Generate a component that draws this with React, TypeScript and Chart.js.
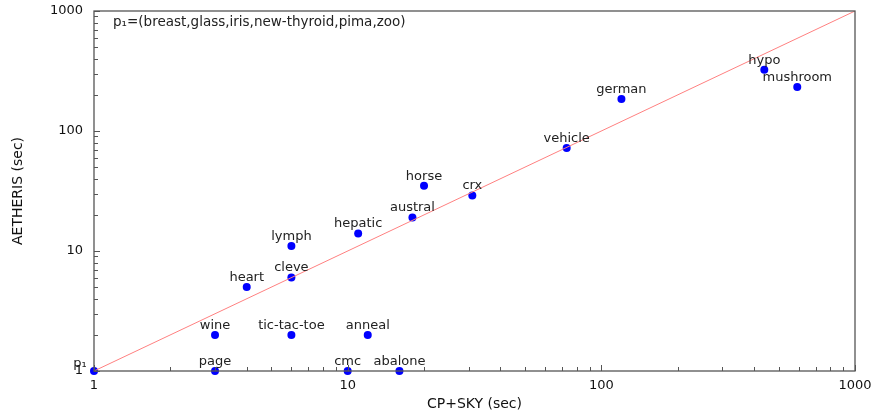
import React, { useEffect, useRef } from "react";
import { Chart, registerables } from "chart.js";

Chart.register(...registerables);

const names = ["p₁", "page", "wine", "tic-tac-toe", "anneal", "cmc", "abalone", "heart", "cleve", "lymph", "hepatic", "austral", "horse", "crx", "vehicle", "german", "hypo", "mushroom"];
const cpSky = [1, 3, 3, 6, 12, 10, 16, 4, 6, 6, 11, 18, 20, 31, 73, 120, 439, 592];
const aetheris = [1, 1, 2, 2, 2, 1, 1, 5, 6, 11, 14, 19, 35, 29, 72, 185, 324, 233];
const majorTicks = [1, 10, 100, 1000];
const diagonal = [1, 1000];
const noteText = "p₁=(breast,glass,iris,new-thyroid,pima,zoo)";
const xTitle = "CP+SKY (sec)";
const yTitle = "AETHERIS (sec)";

const FONT = "'DejaVu Sans', Verdana, sans-serif";
const AXIS_COLOR = "#555555";

const framePlugin = {
  id: "frameTicks",
  afterDatasetsDraw(chart: any) {
    const { ctx, chartArea, scales } = chart;
    const { left, right, top, bottom } = chartArea;
    ctx.save();
    ctx.strokeStyle = AXIS_COLOR;
    ctx.lineWidth = 1.3;
    ctx.strokeRect(left, top, right - left, bottom - top);
    ctx.lineWidth = 1;
    ctx.beginPath();
    for (let d = 1; d < 1000; d *= 10) {
      for (let k = 1; k <= 10; k++) {
        const v = d * k;
        if (v > 1000) continue;
        const len = k === 1 || k === 10 ? 6 : 4;
        const xp = Math.round(scales.x.getPixelForValue(v)) + 0.5;
        ctx.moveTo(xp, bottom);
        ctx.lineTo(xp, bottom - len);
        const yp = Math.round(scales.y.getPixelForValue(v)) + 0.5;
        ctx.moveTo(left, yp);
        ctx.lineTo(left + len, yp);
      }
    }
    ctx.stroke();

    // point labels
    const meta = chart.getDatasetMeta(1);
    ctx.fillStyle = "#222222";
    ctx.font = `13px ${FONT}`;
    ctx.textBaseline = "bottom";
    meta.data.forEach((pt: any, i: number) => {
      ctx.textAlign = "center";
      if (i === 0) {
        ctx.fillText(names[i], pt.x - 14, pt.y - 1);
      } else {
        ctx.fillText(names[i], pt.x, pt.y - 3);
      }
    });

    // note
    ctx.font = `13.5px ${FONT}`;
    ctx.textAlign = "left";
    ctx.textBaseline = "middle";
    ctx.fillStyle = "#222222";
    ctx.fillText(noteText, left + 19, top + 11);
    ctx.restore();
  },
};

export default function App() {
  const ref = useRef<HTMLCanvasElement | null>(null);
  useEffect(() => {
    document.body.style.margin = "0";
    const canvas = ref.current!;
    const chart = new Chart(canvas, {
      type: "scatter",
      data: {
        datasets: [
          {
            data: diagonal.map((v) => ({ x: v, y: v })),
            showLine: true,
            borderColor: "#ff8080",
            borderWidth: 1,
            pointRadius: 0,
            fill: false,
          },
          {
            data: cpSky.map((x, i) => ({ x, y: aetheris[i] })),
            backgroundColor: "#0000ff",
            borderColor: "#0000ff",
            pointRadius: 4,
            borderWidth: 0,
            clip: false,
          } as any,
        ],
      },
      options: {
        responsive: false,
        animation: false,
        events: [],
        layout: { padding: { top: 11, right: 25, left: 0, bottom: 0 } },
        plugins: { legend: { display: false }, tooltip: { enabled: false } },
        scales: {
          x: {
            type: "logarithmic",
            min: 1,
            max: 1000,
            grid: { display: false, drawTicks: false },
            border: { display: false },
            afterBuildTicks: (s: any) => {
              s.ticks = majorTicks.map((v) => ({ value: v }));
            },
            afterFit: (s: any) => {
              s.height = 46;
              s.paddingLeft = 0;
              s.paddingRight = 0;
            },
            ticks: {
              autoSkip: false,
              maxRotation: 0,
              padding: 7,
              color: "#111111",
              font: { family: FONT, size: 13 },
              callback: (v: any) => String(v),
            },
            title: {
              display: true,
              text: xTitle,
              color: "#111111",
              font: { family: FONT, size: 14 },
              padding: { top: 0, bottom: 4 },
            },
          },
          y: {
            type: "logarithmic",
            min: 1,
            max: 1000,
            grid: { display: false, drawTicks: false },
            border: { display: false },
            afterBuildTicks: (s: any) => {
              s.ticks = majorTicks.map((v) => ({ value: v }));
            },
            afterFit: (s: any) => {
              s.width = 94;
              s.paddingTop = 0;
              s.paddingBottom = 0;
            },
            ticks: {
              autoSkip: false,
              padding: 11,
              color: "#111111",
              font: { family: FONT, size: 13 },
              callback: (v: any) => String(v),
            },
            title: {
              display: true,
              text: yTitle,
              color: "#111111",
              font: { family: FONT, size: 14 },
              padding: { top: 10, bottom: 0 },
            },
          },
        },
      },
      plugins: [framePlugin],
    });
    return () => chart.destroy();
  }, []);
  return (
    <div style={{ position: "absolute", left: 0, top: 0, width: 880, height: 417, background: "#fff" }}>
      <canvas ref={ref} width={880} height={417} style={{ display: "block" }} />
    </div>
  );
}
